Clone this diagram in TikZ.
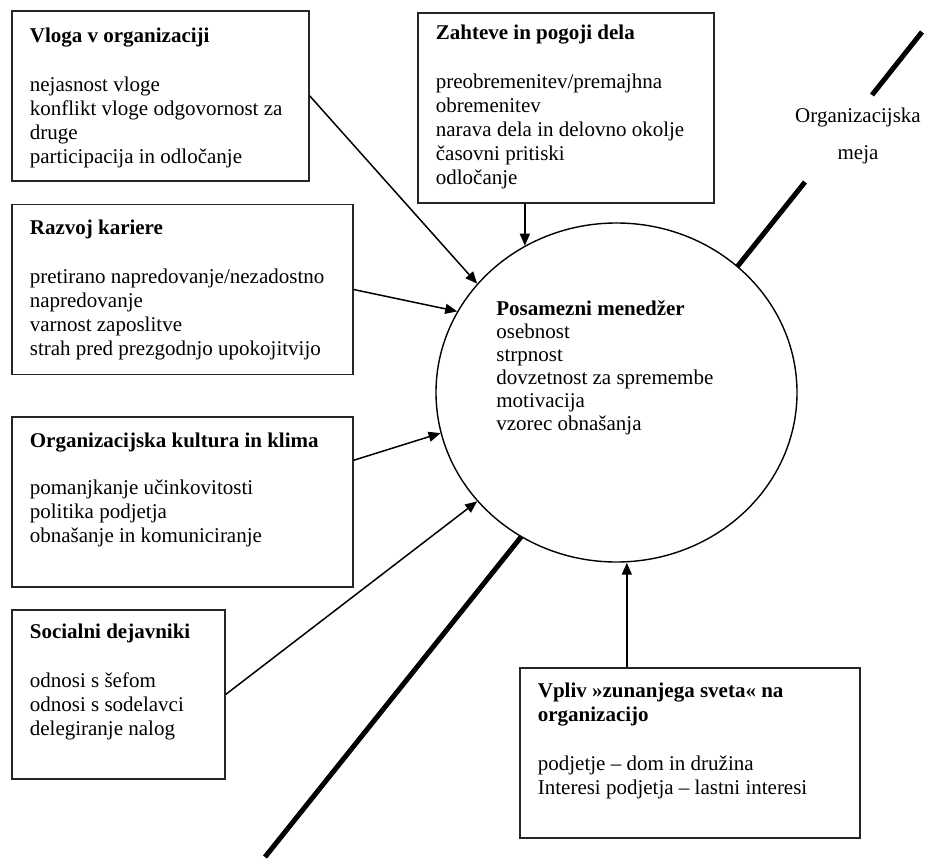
\documentclass[tikz,border=0pt]{standalone}
\usepackage{fontspec}
\setmainfont{Liberation Serif}
\usetikzlibrary{shapes, arrows.meta, positioning}

\begin{document}
\begin{tikzpicture}[x=1pt, y=-1pt, thick,
 factor box/.style={rectangle, draw=black!85, line width=1.7pt, anchor=north west,
   inner xsep=18pt, inner ysep=0pt, font=\fontsize{21}{24}\selectfont},
 manager node/.style={ellipse, draw, fill=white, line width=1.4pt,
   minimum width=361pt, minimum height=339pt, inner sep=0pt},
 border line/.style={line width=5pt},
 arrow/.style={-{Triangle[length=12pt,width=10pt]}, line width=1.5pt}]

  \useasboundingbox (0,0) rectangle (926,861);

  % factors on the left
  \node[factor box] (vloga) at (11,10) {\parbox[c][170pt][t]{261pt}{\raggedright
    \rule{0pt}{32pt}\textbf{Vloga v organizaciji}\\[25pt]
    nejasnost vloge\\ konflikt vloge odgovornost za\\ druge\\ participacija in odločanje}};
  \node[factor box, below=22pt of vloga.south west, anchor=north west] (razvoj) {\parbox[c][170pt][t]{305pt}{\raggedright
    \rule{0pt}{30pt}\textbf{Razvoj kariere}\\[25pt]
    pretirano napredovanje/nezadostno\\ napredovanje\\ varnost zaposlitve\\ strah pred prezgodnjo upokojitvijo}};
  \node[factor box, below=41pt of razvoj.south west, anchor=north west] (kultura) {\parbox[c][170pt][t]{305pt}{\raggedright
    \rule{0pt}{30pt}\textbf{Organizacijska kultura in klima}\\[23pt]
    pomanjkanje učinkovitosti\\ politika podjetja\\ obnašanje in komuniciranje}};
  \node[factor box, below=21pt of kultura.south west, anchor=north west] (socialni) {\parbox[c][169pt][t]{177pt}{\raggedright
    \rule{0pt}{29pt}\textbf{Socialni dejavniki}\\[25pt]
    odnosi s šefom\\ odnosi s sodelavci\\ delegiranje nalog}};

  % factors above and below
  \node[factor box] (zahteve) at (417,12) {\parbox[c][190pt][t]{260pt}{\raggedright
    \rule{0pt}{27pt}\textbf{Zahteve in pogoji dela}\\[25pt]
    preobremenitev/premajhna\\ obremenitev\\ narava dela in delovno okolje\\ časovni pritiski\\ odločanje}};
  \node[factor box] (vpliv) at (519,667) {\parbox[c][170pt][t]{304pt}{\raggedright
    \rule{0pt}{30pt}\textbf{Vpliv »zunanjega sveta« na}\\ \textbf{organizacijo}\\[25pt]
    podjetje – dom in družina\\ Interesi podjetja – lastni interesi}};

  % organisational boundary
  \coordinate (b1) at (922,32);
  \coordinate (b2) at (872,95);
  \coordinate (b3) at (805,182);
  \coordinate (b4) at (265,857);
  \draw[border line] (b1) -- (b2);
  \draw[border line] (b3) -- (b4);
  \node[anchor=base, inner sep=0pt, font=\fontsize{21}{24}\selectfont] (meja) at (858,123)
    {\parbox[t]{140pt}{\centering Organizacijska\\[13pt] meja}};

  % the manager
  \node[manager node] (menedzer) at (616.5,392.5) {};
  \node[anchor=base west, inner sep=0pt, font=\fontsize{21}{23}\selectfont] (menedzer-txt) at (496,315)
    {\parbox[t]{230pt}{\textbf{Posamezni menedžer}\\ osebnost\\ strpnost\\ dovzetnost za spremembe\\ motivacija\\ vzorec obnašanja}};

  \coordinate (zahteve-out) at ([xshift=-41pt]zahteve.south);
  \coordinate (kultura-out) at ([yshift=42pt]kultura.east);
  \coordinate (vpliv-out) at ([xshift=-63pt]vpliv.north);

  \foreach \s/\t in {vloga.east/menedzer.142, razvoj.east/menedzer.153,
                     kultura-out/menedzer.193, socialni.east/menedzer.218} {
   \draw[arrow] (\s) -- (\t);}
  \draw[arrow] (zahteve-out) -- (zahteve-out |- menedzer.122);
  \draw[arrow] (vpliv-out) -- (vpliv-out |- menedzer.south);
\end{tikzpicture}
\end{document}
